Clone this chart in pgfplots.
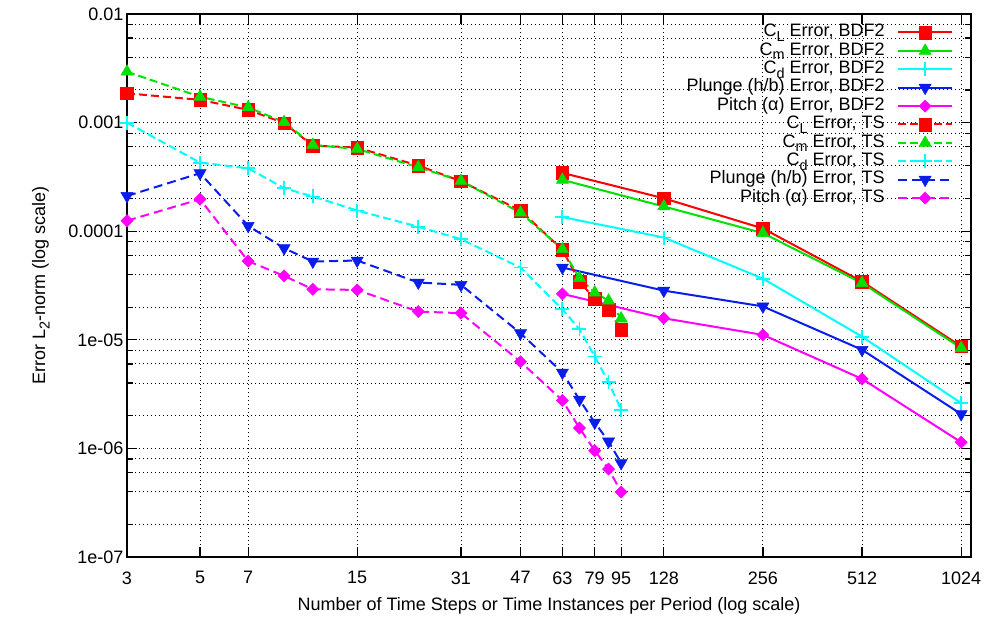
\documentclass[border=0pt]{standalone}
\usepackage{fontspec}
\setmainfont{Liberation Sans}
\usepackage{pgfplots}
\pgfplotsset{compat=1.18}
\definecolor{cred}{RGB}{255,0,0}
\definecolor{cgreen}{RGB}{0,225,0}
\definecolor{ccyan}{RGB}{0,255,255}
\definecolor{cblue}{RGB}{10,30,235}
\definecolor{cmag}{RGB}{255,0,255}
\newcommand\sub[1]{\raisebox{-4.5pt}{\fontsize{14.4}{14.4}\selectfont #1}}
\begin{document}
\begin{tikzpicture}
\begin{axis}[
  scale only axis, width=844pt, height=543pt,
  xmode=log, ymode=log,
  xmin=3, xmax=1097, ymin=1e-7, ymax=1e-2,
  font=\fontsize{18}{21}\selectfont,
  /pgf/number format/assume math mode=true,
  xtick={3,5,7,15,31,47,63,79,95,128,256,512,1024},
  xticklabels={3,5,7,15,31,47,63,79,95,128,256,512,1024},
  minor xtick={},
  ytick={1e-7,1e-6,1e-5,1e-4,1e-3,1e-2},
  yticklabels={1e-07,1e-06,1e-05,0.0001,0.001,0.01},
  minor ytick={2e-7,4e-7,6e-7,8e-7,2e-6,4e-6,6e-6,8e-6,2e-5,4e-5,6e-5,8e-5,2e-4,4e-4,6e-4,8e-4,2e-3,4e-3,6e-3,8e-3},
  xmajorgrids=true, ymajorgrids=true, yminorgrids=true,
  major grid style={black, line width=0.9pt, dash pattern=on 1.1pt off 2.9pt},
  minor grid style={black, line width=0.9pt, dash pattern=on 1.1pt off 2.9pt},
  axis line style={line width=1.8pt},
  tick style={black, line width=1.2pt},
  major tick length=10pt, minor tick length=6pt,
  tick align=inside,
  xlabel={Number of Time Steps or Time Instances per Period (log scale)},
  ylabel={Error L\sub{2}-norm (log scale)},
  xlabel style={yshift=-6pt},
  ylabel style={yshift=12pt},
  xticklabel style={yshift=-11pt},
  legend cell align=right,
  legend plot pos=right,
  legend style={draw=none, fill=none, at={(rel axis cs:0.9826,0.987)}, anchor=north east,
    font=\fontsize{18}{21}\selectfont,
    nodes={inner sep=0.5pt, text height=13pt, text depth=4.4pt},
    row sep=0pt,
    /tikz/every odd column/.append style={column sep=12pt}},
  legend image code/.code={\draw[mark repeat=2,mark phase=2] plot coordinates {(0pt,0pt) (27pt,0pt) (54pt,0pt)};},
  bdf/.style={line width=2pt},
  ts/.style={line width=2pt},
]
% BDF2
\addplot[bdf, cred, mark=square*, mark size=6.3pt, mark options={solid, line width=0.5pt}] coordinates {
(63,3.44e-4) (128,2.01e-4) (256,1.06e-4) (512,3.44e-5) (1024,8.69e-6)};
\addlegendentry{C\sub{L} Error, BDF2}
\addplot[bdf, cgreen, mark=triangle*, mark size=7pt, mark options={solid, line width=0.5pt}] coordinates {
(63,2.97e-4) (128,1.69e-4) (256,9.6e-5) (512,3.33e-5) (1024,8.4e-6)};
\addlegendentry{C\sub{m} Error, BDF2}
\addplot[bdf, ccyan, mark=+, mark size=7pt, mark options={solid, line width=1.8pt}] coordinates {
(63,1.35e-4) (128,8.75e-5) (256,3.66e-5) (512,1.07e-5) (1024,2.61e-6)};
\addlegendentry{C\sub{d} Error, BDF2}
\addplot[bdf, cblue, mark=triangle*, mark size=7pt, mark options={solid, rotate=180, line width=0.5pt}] coordinates {
(63,4.63e-5) (128,2.84e-5) (256,2.03e-5) (512,8.1e-6) (1024,2.07e-6)};
\addlegendentry{Plunge (h/b) Error, BDF2}
\addplot[bdf, cmag, mark=square*, mark size=4.3pt, mark options={solid, rotate=45, line width=0.5pt}] coordinates {
(63,2.65e-5) (128,1.58e-5) (256,1.11e-5) (512,4.37e-6) (1024,1.14e-6)};
\addlegendentry{Pitch (α) Error, BDF2}
% TS
\addplot[ts, cred, dash pattern=on 8pt off 4pt, mark=square*, mark size=6.3pt, mark options={solid, line width=0.5pt}] coordinates {
(3,1.86e-3) (5,1.62e-3) (7,1.31e-3) (9,9.9e-4) (11,6.14e-4) (15,5.89e-4) (23,4.02e-4) (31,2.89e-4) (47,1.55e-4) (63,6.73e-5) (71,3.44e-5) (79,2.38e-5) (87,1.89e-5) (95,1.24e-5)};
\addlegendentry{C\sub{L} Error, TS}
\addplot[ts, cgreen, dash pattern=on 8pt off 4pt, mark=triangle*, mark size=7pt, mark options={solid, line width=0.5pt}] coordinates {
(3,2.94e-3) (5,1.73e-3) (7,1.38e-3) (9,1.01e-3) (11,6.23e-4) (15,5.72e-4) (23,3.88e-4) (31,2.90e-4) (47,1.48e-4) (63,6.83e-5) (71,3.70e-5) (79,2.72e-5) (87,2.29e-5) (95,1.57e-5)};
\addlegendentry{C\sub{m} Error, TS}
\addplot[ts, ccyan, dash pattern=on 8pt off 4pt, mark=+, mark size=7pt, mark options={solid, line width=1.8pt}] coordinates {
(3,1.0e-3) (5,4.28e-4) (7,3.80e-4) (9,2.49e-4) (11,2.09e-4) (15,1.55e-4) (23,1.10e-4) (31,8.44e-5) (47,4.63e-5) (63,1.91e-5) (71,1.25e-5) (79,7.02e-6) (87,4.07e-6) (95,2.27e-6)};
\addlegendentry{C\sub{d} Error, TS}
\addplot[ts, cblue, dash pattern=on 9pt off 5pt, mark=triangle*, mark size=7pt, mark options={solid, rotate=180, line width=0.5pt}] coordinates {
(3,2.11e-4) (5,3.42e-4) (7,1.12e-4) (9,6.98e-5) (11,5.26e-5) (15,5.37e-5) (23,3.37e-5) (31,3.21e-5) (47,1.15e-5) (63,5.0e-6) (71,2.81e-6) (79,1.73e-6) (87,1.16e-6) (95,7.33e-7)};
\addlegendentry{Plunge (h/b) Error, TS}
\addplot[ts, cmag, dash pattern=on 9pt off 5pt, mark=square*, mark size=4.3pt, mark options={solid, rotate=45, line width=0.5pt}] coordinates {
(3,1.25e-4) (5,1.97e-4) (7,5.30e-5) (9,3.88e-5) (11,2.92e-5) (15,2.88e-5) (23,1.82e-5) (31,1.76e-5) (47,6.28e-6) (63,2.77e-6) (71,1.54e-6) (79,9.53e-7) (87,6.46e-7) (95,3.97e-7)};
\addlegendentry{Pitch (α) Error, TS}
\end{axis}
\pgfresetboundingbox
\path[use as bounding box] ([xshift=-127pt,yshift=-59pt]current axis.south west) rectangle ([xshift=17pt,yshift=14pt]current axis.north east);
\end{tikzpicture}
\end{document}
